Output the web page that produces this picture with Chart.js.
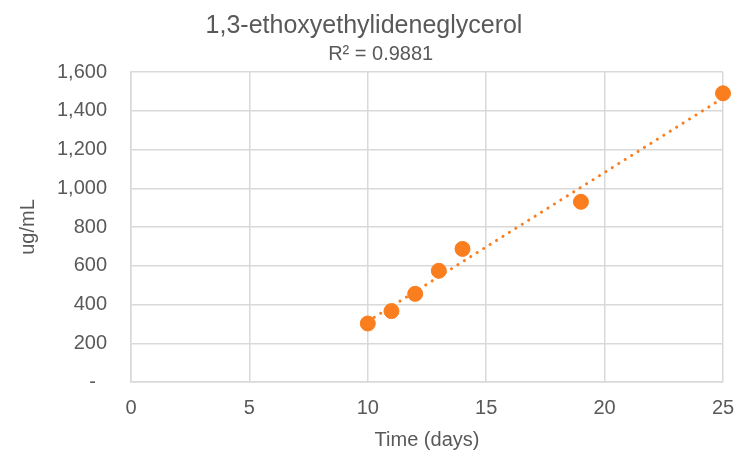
<!DOCTYPE html>
<html>
<head>
<meta charset="utf-8">
<script src="https://cdn.jsdelivr.net/npm/chart.js@4/dist/chart.umd.min.js"></script>
<style>
  html, body { margin: 0; padding: 0; background: #fff; }
  #wrap { width: 737px; height: 452px; }
</style>
</head>
<body>
<div id="wrap"><canvas id="myChart" width="737" height="452"></canvas></div>
<script>
const days = [10, 11, 12, 13, 14, 19, 25];
const conc = [302, 366, 455, 574, 687, 930, 1490];
const xTicks = [0, 5, 10, 15, 20, 25];
const yTicks = [0, 200, 400, 600, 800, 1000, 1200, 1400, 1600];

const orange = "#fa7d1e";
const grey = "#595959";
const font = "'Liberation Sans', Arial, sans-serif";

// least squares trendline from the data
function fit(xs, ys) {
  var n = xs.length, mx = 0, my = 0;
  for (var i = 0; i < n; i++) { mx += xs[i]; my += ys[i]; }
  mx /= n; my /= n;
  var sxx = 0, sxy = 0;
  for (var i = 0; i < n; i++) {
    sxx += (xs[i] - mx) * (xs[i] - mx);
    sxy += (xs[i] - mx) * (ys[i] - my);
  }
  var m = sxy / sxx;
  return { m: m, b: my - m * mx };
}
const line = fit(days, conc);
const xMin = Math.min.apply(null, days), xMax = Math.max.apply(null, days);
const trend = [
  { x: xMin, y: line.m * xMin + line.b },
  { x: xMax, y: line.m * xMax + line.b }
];

var ctx = document.getElementById("myChart").getContext("2d");
var chart = new Chart(ctx, {
  type: "scatter",
  data: {
    datasets: [
      {
        label: "trend",
        type: "line",
        data: trend,
        borderColor: orange,
        borderWidth: 3,
        borderDash: [0.1, 7.5],
        borderCapStyle: "round",
        pointRadius: 0,
        fill: false,
        order: 2
      },
      {
        label: "ug/mL",
        data: days.map(function (d, i) { return { x: d, y: conc[i] }; }),
        backgroundColor: orange,
        borderColor: orange,
        pointRadius: 7.5,
        pointHoverRadius: 7.5,
        order: 1
      }
    ]
  },
  options: {
    responsive: false,
    animation: false,
    clip: false,
    layout: { autoPadding: false, padding: { left: 5, right: 14, top: 0, bottom: 0 } },
    plugins: {
      legend: { display: false },
      tooltip: { enabled: false },
      title: {
        display: true,
        text: "1,3-ethoxyethylideneglycerol",
        color: grey,
        font: { family: font, size: 25, weight: "normal" },
        padding: { top: 11, bottom: 1.5 }
      },
      subtitle: {
        display: true,
        // the R² label sits a little right of centre in the original
        text: "      R² = 0.9881",
        color: grey,
        font: { family: font, size: 20, weight: "normal" },
        padding: { top: 0, bottom: 5.5 }
      }
    },
    scales: {
      x: {
        type: "linear",
        min: 0,
        max: 25,
        afterBuildTicks: function (axis) {
          axis.ticks = xTicks.map(function (v) { return { value: v }; });
        },
        afterFit: function (axis) {
          axis.height = 70;
          axis.paddingRight = 0;
          axis.paddingLeft = 0;
        },
        grid: { color: "#d9d9d9", lineWidth: 1.5, drawTicks: false },
        border: { color: "#d9d9d9", width: 1.5 },
        ticks: { color: grey, font: { family: font, size: 20 }, padding: 14 },
        title: {
          display: true,
          text: "Time (days)",
          color: grey,
          font: { family: font, size: 20 },
          padding: { top: 0, bottom: 0 }
        }
      },
      y: {
        min: 0,
        max: 1600,
        afterBuildTicks: function (axis) {
          axis.ticks = yTicks.map(function (v) { return { value: v }; });
        },
        afterFit: function (axis) {
          axis.width = 126;
          axis.paddingTop = 0;
          axis.paddingBottom = 0;
        },
        grid: { color: "#d9d9d9", lineWidth: 1.5, drawTicks: false },
        border: { color: "#d9d9d9", width: 1.5 },
        ticks: {
          color: grey,
          font: { family: font, size: 20 },
          padding: 24,
          callback: function (v) {
            return v === 0 ? "-  " : v.toLocaleString("en-US");
          }
        },
        title: {
          display: true,
          text: "ug/mL",
          color: grey,
          font: { family: font, size: 20 },
          padding: { top: 11, bottom: 0 }
        }
      }
    }
  }
});
</script>
</body>
</html>
